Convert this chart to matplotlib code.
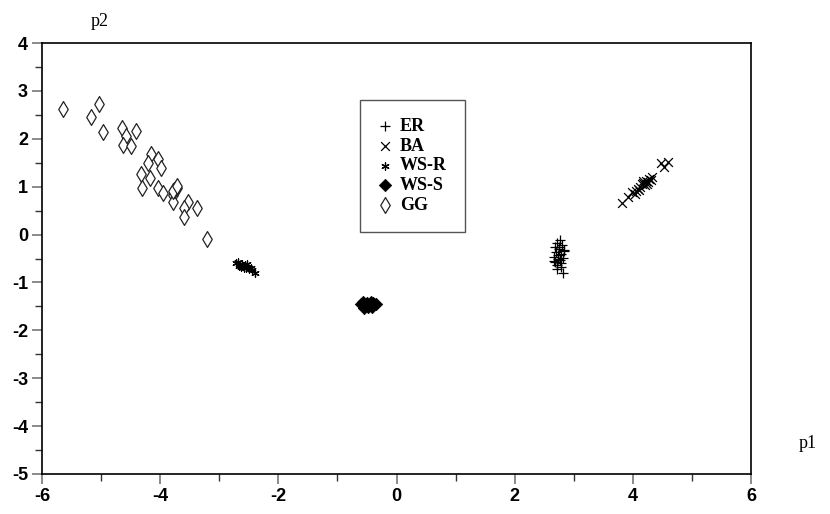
"""Scatter of the five network models in the (p1, p2) plane."""

import matplotlib

matplotlib.use("Agg")
import matplotlib.pyplot as plt
from matplotlib.ticker import MultipleLocator

plt.rcParams["axes.unicode_minus"] = False

# ---- data ---------------------------------------------------------------
er_x = [2.77, 2.72, 2.80, 2.68, 2.75, 2.83, 2.70, 2.78, 2.74, 2.66, 2.81,
        2.73, 2.76, 2.69, 2.79, 2.71, 2.84, 2.75, 2.67, 2.78, 2.72, 2.82]
er_y = [-0.11, -0.18, -0.22, -0.27, -0.30, -0.33, -0.36, -0.40, -0.43, -0.46,
        -0.48, -0.51, -0.54, -0.57, -0.60, -0.63, -0.35, -0.25, -0.55, -0.68,
        -0.72, -0.80]

ba_x = [3.81, 3.91, 3.99, 4.03, 4.08, 4.12, 4.15, 4.18, 4.20, 4.22, 4.25,
        4.27, 4.30, 4.33, 4.10, 4.17, 4.24, 4.05, 4.47, 4.60, 4.52]
ba_y = [0.65, 0.79, 0.88, 0.85, 0.96, 1.00, 1.05, 1.08, 1.03, 1.12, 1.10,
        1.16, 1.14, 1.20, 0.93, 1.12, 1.05, 0.90, 1.49, 1.52, 1.42]

wsr_x = [-2.72, -2.68, -2.65, -2.62, -2.60, -2.57, -2.55, -2.52, -2.50,
         -2.47, -2.44, -2.40, -2.66, -2.58, -2.53, -2.63]
wsr_y = [-0.60, -0.58, -0.63, -0.61, -0.66, -0.64, -0.69, -0.67, -0.72,
         -0.70, -0.75, -0.80, -0.65, -0.70, -0.62, -0.68]

wss_x = [-0.60, -0.56, -0.53, -0.50, -0.47, -0.44, -0.41, -0.38, -0.35,
         -0.55, -0.48, -0.42, -0.52, -0.45, -0.39]
wss_y = [-1.45, -1.40, -1.50, -1.43, -1.47, -1.41, -1.49, -1.44, -1.46,
         -1.53, -1.52, -1.52, -1.46, -1.44, -1.42]

gg_x = [-5.65, -5.04, -5.17, -4.97, -4.64, -4.41, -4.58, -4.63, -4.50,
        -4.15, -4.04, -4.21, -3.98, -4.33, -4.17, -4.30, -4.03, -3.96,
        -3.72, -3.78, -3.78, -3.53, -3.60, -3.38, -3.59, -3.20,
        -3.76, -3.74, -3.79, -3.71]
gg_y = [2.62, 2.73, 2.46, 2.14, 2.22, 2.16, 2.06, 1.87, 1.84,
        1.68, 1.57, 1.49, 1.38, 1.26, 1.19, 0.97, 0.97, 0.86,
        0.97, 0.83, 0.69, 0.69, 0.56, 0.56, 0.36, -0.10,
        0.93, 0.98, 0.90, 1.02]

series = [
    ("ER", er_x, er_y),
    ("BA", ba_x, ba_y),
    ("WS-R", wsr_x, wsr_y),
    ("WS-S", wss_x, wss_y),
    ("GG", gg_x, gg_y),
]

styles = {
    "ER": dict(marker="+", s=60, color="black", linewidths=0.9),
    "BA": dict(marker="x", s=40, color="black", linewidths=0.9),
    "WS-R": dict(marker=(6, 2, 0), s=28, color="black", linewidths=0.9),
    "WS-S": dict(marker="D", s=40, color="black", edgecolors="black", linewidths=0.5),
    "GG": dict(marker="d", s=65, facecolors="white", edgecolors="#222222", linewidths=0.9),
}

tick_family = ["Liberation Sans Narrow", "Liberation Sans", "DejaVu Sans"]
serif = ["Liberation Serif", "DejaVu Serif"]

fig = plt.figure(figsize=(8.3, 5.14), dpi=100)
ax = fig.add_axes([42 / 830, 40 / 514, 709 / 830, 431 / 514])

for name, xs, ys in series:
    ax.scatter(xs, ys, label=name, zorder=3, **styles[name])

ax.set_xlim(-6, 6)
ax.set_ylim(-5, 4)
ax.xaxis.set_major_locator(MultipleLocator(2))
ax.xaxis.set_minor_locator(MultipleLocator(1))
ax.yaxis.set_major_locator(MultipleLocator(1))
ax.yaxis.set_minor_locator(MultipleLocator(0.5))
ax.tick_params(which="major", direction="out", length=7, width=1.2, color="#777777", pad=3)
ax.tick_params(which="minor", direction="out", length=5, width=1, color="#333333")
for lab in ax.get_xticklabels() + ax.get_yticklabels():
    lab.set_fontfamily(tick_family)
    lab.set_fontweight("bold")
    lab.set_fontsize(13)
for sp in ax.spines.values():
    sp.set_linewidth(1.2)

fig.text(100 / 830, 1 - 22 / 514, "p2", family=serif, fontsize=13, ha="center", va="center")
fig.text(808 / 830, 1 - 443 / 514, "p1", family=serif, fontsize=13, ha="center", va="center")

leg = ax.legend(loc="upper left", bbox_to_anchor=(0.449, 0.868), borderaxespad=0,
                frameon=True, fancybox=False, edgecolor="#555555", framealpha=1,
                prop=dict(family=serif, size=13, weight="bold"),
                handletextpad=0.5, labelspacing=0.15, borderpad=1.0,
                handlelength=0.7, scatterpoints=1)
leg.get_frame().set_linewidth(1.0)

fig.savefig("out.png", dpi=100)
